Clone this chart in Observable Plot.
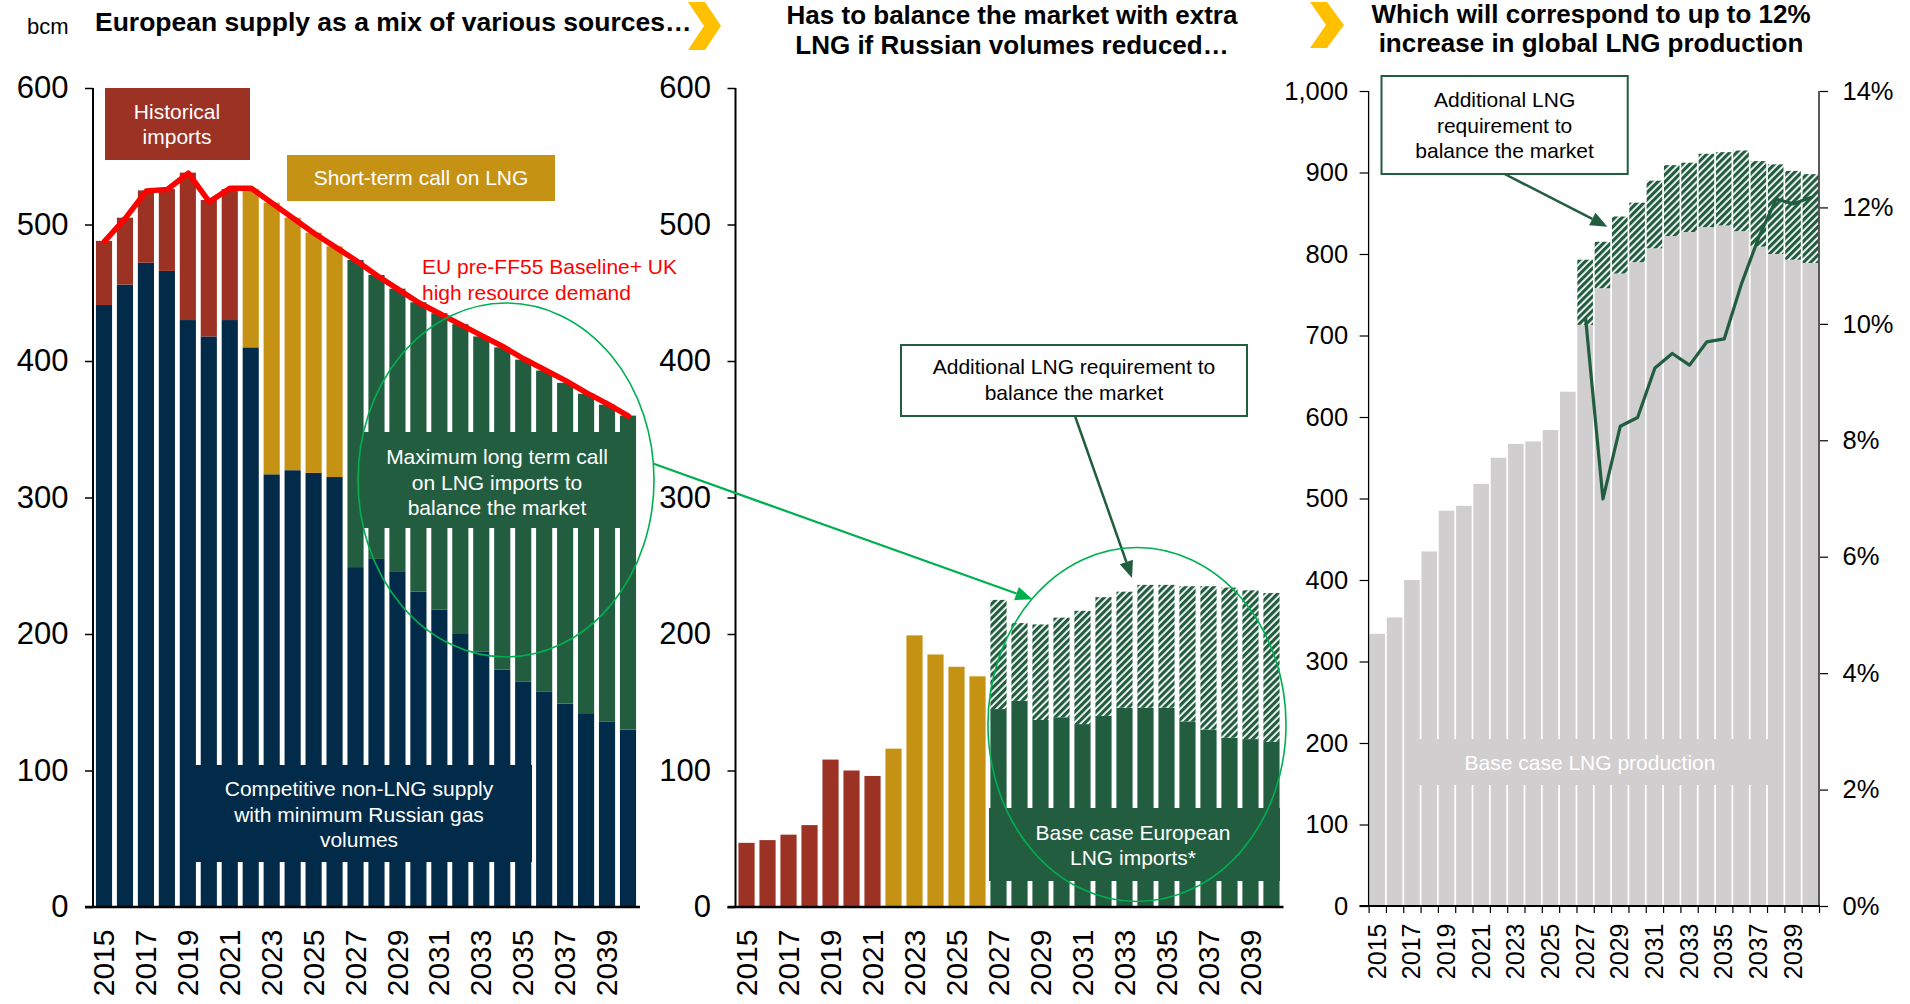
<!DOCTYPE html>
<html>
<head>
<meta charset="utf-8">
<script src="https://cdn.jsdelivr.net/npm/d3@7"></script>
<script src="https://cdn.jsdelivr.net/npm/@observablehq/plot@0.6"></script>
<style>
  html, body { margin: 0; padding: 0; background: #fff; }
  body { font-family: "Liberation Sans", Arial, Helvetica, sans-serif; }
  #root { position: relative; width: 1910px; height: 1004px; overflow: hidden; background: #fff; }
  .panel { position: absolute; top: 0; }
  .title { position: absolute; font-weight: bold; font-size: 26px; line-height: 30px; color: #000; white-space: nowrap; }
  .center { transform: translateX(-50%); text-align: center; }
</style>
</head>
<body>
<div id="root">
  <div class="title" style="left:27px;top:16px;font-size:22px;font-weight:normal;line-height:22px;">bcm</div>
  <div class="title" style="left:95px;top:9px;line-height:26px;font-size:26.5px;">European supply as a mix of various sources…</div>
  <div class="title center" style="left:1012px;top:0px;">Has to balance the market with extra<br>LNG if Russian volumes reduced…</div>
  <div class="title center" style="left:1591px;top:0px;line-height:29px;">Which will correspond to up to 12%<br>increase in global LNG production</div>
  <svg style="position:absolute;left:0;top:0;" width="1910" height="60">
    <polygon points="688,2 705,2 721,26 705,50 688,50 704,26" fill="#ffc000"></polygon>
    <polygon points="1310,2 1327,2 1344,25 1327,48 1310,48 1326,25" fill="#ffc000"></polygon>
  </svg>
</div>
<script>
// ---------------- DATA ----------------
const years = [2015, 2016, 2017, 2018, 2019, 2020, 2021, 2022, 2023, 2024, 2025, 2026, 2027,
               2028, 2029, 2030, 2031, 2032, 2033, 2034, 2035, 2036, 2037, 2038, 2039, 2040];
const labelYears = [2015, 2017, 2019, 2021, 2023, 2025, 2027, 2029, 2031, 2033, 2035, 2037, 2039];
const historicalYears = [2015, 2016, 2017, 2018, 2019, 2020, 2021];
const shortTermYears = [2022, 2023, 2024, 2025, 2026];
const longTermYears = [2027, 2028, 2029, 2030, 2031, 2032, 2033, 2034, 2035, 2036, 2037, 2038, 2039, 2040];

// Competitive non-LNG supply with minimum Russian gas volumes (bcm), 2015-2040
const nonLngSupply = [441, 456, 472, 466, 430, 418, 430, 410, 317, 320, 318, 315, 249,
                      255, 246, 231, 218, 200, 187, 174, 165, 158, 149, 142, 136, 130];
// European LNG imports (bcm)
const historicalImports = [47, 49, 53, 60, 108, 100, 96];          // 2015-2021
const shortTermLng = [116, 199, 185, 176, 169];                     // 2022-2026
const baseCaseImports = [145, 151, 137, 139, 134, 140, 146, 146, 146, 136, 130, 124, 123, 121]; // 2027-2040
const additionalLng = [80, 57, 70, 73, 83, 87, 85, 90, 90, 99, 105, 110, 109, 109];            // 2027-2040
// EU pre-FF55 Baseline + UK high resource demand (bcm)
const demandLine = [488, 505, 525, 526, 538, 517, 527, 527, 516, 505, 494, 484, 474,
                    463, 453, 443, 435, 427, 419, 411, 402, 394, 386, 377, 369, 360];
// Global LNG production, base case (bcm)
const baseCaseProduction = [334, 354, 400, 435, 485, 491, 518, 550, 567, 570, 584, 631, 713,
                            758, 776, 790, 807, 822, 827, 833, 835, 828, 809, 800, 793, 789];
// Additional LNG as share of global LNG production (%), 2027-2040
const additionalShare = [10.1, 7.0, 8.25, 8.4, 9.25, 9.5, 9.3, 9.7, 9.75, 10.7, 11.5, 12.15, 12.07, 12.18];

const yTicksLeft = [0, 100, 200, 300, 400, 500, 600];
const yTicksRight = [0, 100, 200, 300, 400, 500, 600, 700, 800, 900, 1000];
const pctTicks = [0, 2, 4, 6, 8, 10, 12, 14];

// ---------------- STYLE ----------------
const FONT = '"Liberation Sans", Arial, Helvetica, sans-serif';
const NAVY = "#022b49", RED = "#9c3224", GOLD = "#c69214", GREEN = "#225d40",
      GREY = "#d0cecf", LINE_RED = "#ff0000", BRIGHT = "#00b050";

// ---------------- TABLES ----------------
const leftRows = [];
years.forEach((yr, i) => {
  leftRows.push({year: yr, value: nonLngSupply[i], fill: NAVY});
  let h = historicalYears.indexOf(yr), s = shortTermYears.indexOf(yr), l = longTermYears.indexOf(yr);
  if (h >= 0) leftRows.push({year: yr, value: historicalImports[h], fill: RED});
  else if (s >= 0) leftRows.push({year: yr, value: shortTermLng[s], fill: GOLD});
  else leftRows.push({year: yr, value: baseCaseImports[l] + additionalLng[l], fill: GREEN});
});
const demandRows = years.map((yr, i) => ({year: yr, demand: demandLine[i]}));

const midRows = [];
historicalYears.forEach((yr, i) => midRows.push({year: yr, value: historicalImports[i], fill: RED}));
shortTermYears.forEach((yr, i) => midRows.push({year: yr, value: shortTermLng[i], fill: GOLD}));
longTermYears.forEach((yr, i) => {
  midRows.push({year: yr, value: baseCaseImports[i], fill: GREEN});
  midRows.push({year: yr, value: additionalLng[i], fill: "url(#hatchM)"});
});

const rightRows = [];
years.forEach((yr, i) => rightRows.push({year: yr, value: baseCaseProduction[i], fill: GREY}));
longTermYears.forEach((yr, i) => rightRows.push({year: yr, value: additionalLng[i], fill: "url(#hatchR)"}));
const shareRows = longTermYears.map((yr, i) => ({year: yr, share: additionalShare[i]}));

// ---------------- HELPERS ----------------
function hatchDefs(id) {
  return () => {
    const defs = d3.create("svg:defs");
    const p = defs.append("pattern").attr("id", id).attr("patternUnits", "userSpaceOnUse")
      .attr("width", 5).attr("height", 5).attr("patternTransform", "rotate(45)");
    p.append("rect").attr("width", 5).attr("height", 5).attr("fill", "#fff");
    p.append("rect").attr("width", 3.2).attr("height", 5).attr("fill", GREEN);
    return defs.node();
  };
}
function axisLines({left = true, right = false, base = true, w = 2, baseW = 2.5, baseExt = 8, top}) {
  return (index, scales, values, dims) => {
    const g = d3.create("svg:g").attr("stroke", "#000").attr("fill", "none");
    const y = scales.y;
    const x0 = dims.marginLeft, x1 = dims.width - dims.marginRight;
    const y0 = y(0), yt = y(top);
    if (left) g.append("line").attr("x1", x0).attr("x2", x0).attr("y1", yt).attr("y2", y0).attr("stroke-width", w);
    if (right) g.append("line").attr("x1", x1).attr("x2", x1).attr("y1", yt).attr("y2", y0).attr("stroke-width", w);
    if (base) g.append("line").attr("x1", x0 - baseExt).attr("x2", x1 + 1).attr("y1", y0).attr("y2", y0).attr("stroke-width", baseW);
    return g.node();
  };
}
function annot(offsetX, draw) {
  return (index, scales, values, dims) => {
    const g = d3.create("svg:g").attr("transform", `translate(${-offsetX},0)`).attr("font-family", FONT);
    draw(g);
    return g.node();
  };
}
function box(g, x1, y1, x2, y2, fill, stroke) {
  const r = g.append("rect").attr("x", x1).attr("y", y1).attr("width", x2 - x1).attr("height", y2 - y1).attr("fill", fill);
  if (stroke) r.attr("stroke", stroke).attr("stroke-width", 2);
}
function lines(g, x, ys, texts, fill, size = 21, anchor = "middle") {
  texts.forEach((t, i) => g.append("text").attr("x", x).attr("y", ys[i]).attr("dy", "0.35em")
    .attr("text-anchor", anchor).attr("font-size", size).attr("fill", fill).text(t));
}
function arrow(g, x1, y1, x2, y2, color, w, hl = 16, hw = 13) {
  const dx = x2 - x1, dy = y2 - y1, L = Math.hypot(dx, dy), ux = dx / L, uy = dy / L;
  const bx = x2 - ux * hl, by = y2 - uy * hl;
  g.append("line").attr("x1", x1).attr("y1", y1).attr("x2", bx).attr("y2", by).attr("stroke", color).attr("stroke-width", w);
  g.append("polygon").attr("points", `${x2},${y2} ${bx - uy * hw / 2},${by + ux * hw / 2} ${bx + uy * hw / 2},${by - ux * hw / 2}`).attr("fill", color);
}
function ellipse(g, cx, cy, rx, ry) {
  g.append("ellipse").attr("cx", cx).attr("cy", cy).attr("rx", rx).attr("ry", ry)
    .attr("fill", "none").attr("stroke", BRIGHT).attr("stroke-width", 1.6);
}
const baseStyle = {background: "transparent", overflow: "visible", fontFamily: FONT, color: "#000"};
const root = document.getElementById("root");
function place(node, left) {
  node.classList.add("panel");
  node.style.left = left + "px";
  node.style.position = "absolute";
  node.style.top = "0px";
  node.style.maxWidth = "none";
  root.appendChild(node);
}

// ---------------- LEFT PANEL ----------------
const L0 = 0;
const leftPlot = Plot.plot({
  width: 660, height: 1004, marginLeft: 93, marginRight: 21, marginTop: 88, marginBottom: 97,
  style: baseStyle,
  x: {type: "band", domain: years, paddingInner: 0.23, paddingOuter: 0.14, round: false},
  y: {domain: [0, 600]},
  color: {type: "identity"},
  marks: [
    Plot.barY(leftRows, {x: "year", y: "value", fill: "fill"}),
    Plot.lineY(demandRows, {x: "year", y: "demand", stroke: LINE_RED, strokeWidth: 5.5}),
    axisLines({top: 600}),
    Plot.axisY({ticks: yTicksLeft, tickSize: 8, tickPadding: 17, fontSize: 31, label: null, strokeWidth: 1.5}),
    Plot.axisX({ticks: labelYears, tickSize: 0, tickPadding: 22, tickRotate: -90, fontSize: 30, tickFormat: d => String(d), label: null}),
    annot(L0, g => {
      box(g, 105, 88, 250, 160, RED);
      lines(g, 177, [112, 137], ["Historical", "imports"], "#fff");
      box(g, 287, 155, 555, 201, GOLD);
      lines(g, 421, [178], ["Short-term call on LNG"], "#fff");
      lines(g, 422, [267, 293], ["EU pre-FF55 Baseline+ UK", "high resource demand"], LINE_RED, 21, "start");
      box(g, 362, 432, 636, 528, GREEN);
      lines(g, 497, [457, 483, 508], ["Maximum long term call", "on LNG imports to", "balance the market"], "#fff");
      box(g, 182, 765, 532, 862, NAVY);
      lines(g, 359, [789, 815, 840], ["Competitive non-LNG supply", "with minimum Russian gas", "volumes"], "#fff");
      ellipse(g, 506, 480, 148, 177);
    })
  ]
});
place(leftPlot, L0);

// ---------------- MIDDLE PANEL ----------------
const M0 = 660;
const midPlot = Plot.plot({
  width: 640, height: 1004, marginLeft: 75.5, marginRight: 17.5, marginTop: 88, marginBottom: 97,
  style: baseStyle,
  x: {type: "band", domain: years, paddingInner: 0.23, paddingOuter: 0.14, round: false},
  y: {domain: [0, 600]},
  color: {type: "identity"},
  marks: [
    hatchDefs("hatchM"),
    Plot.barY(midRows, {x: "year", y: "value", fill: "fill"}),
    axisLines({top: 600}),
    Plot.axisY({ticks: yTicksLeft, tickSize: 8, tickPadding: 17, fontSize: 31, label: null, strokeWidth: 1.5}),
    Plot.axisX({ticks: labelYears, tickSize: 0, tickPadding: 22, tickRotate: -90, fontSize: 30, tickFormat: d => String(d), label: null}),
    annot(M0, g => {
      arrow(g, 653, 463.5, 1032.5, 599.3, BRIGHT, 2.2, 17, 14);
      box(g, 901, 345, 1247, 416, "#fff", GREEN);
      lines(g, 1074, [367, 393], ["Additional LNG requirement to", "balance the market"], "#000");
      arrow(g, 1075, 416, 1132, 578, GREEN, 2.5, 17, 14);
      box(g, 989, 808, 1280, 881, GREEN);
      lines(g, 1133, [833, 858], ["Base case European", "LNG imports*"], "#fff");
      ellipse(g, 1137, 724.5, 149, 177);
    })
  ]
});
place(midPlot, M0);

// ---------------- RIGHT PANEL ----------------
const R0 = 1300;
const RW = 610, RML = 68.6, RMR = 91;
const rStep = (RW - RML - RMR) / (years.length - 0.1 + 2 * 0.05);
const rightPlot = Plot.plot({
  width: RW, height: 1004, marginLeft: RML, marginRight: RMR, marginTop: 91, marginBottom: 98,
  style: baseStyle,
  x: {type: "band", domain: years, paddingInner: 0.1, paddingOuter: 0.05, round: false},
  y: {domain: [0, 1000]},
  color: {type: "identity"},
  marks: [
    hatchDefs("hatchR"),
    Plot.barY(rightRows, {x: "year", y: "value", fill: "fill"}),
    axisLines({top: 1000, w: 1.3, baseW: 1.8, baseExt: 9}),
    Plot.axisY({ticks: yTicksRight, tickFormat: d3.format(","), tickSize: 9, tickPadding: 12, fontSize: 25.5, label: null, strokeWidth: 1.2}),
    Plot.axisX({ticks: years, tickSize: 7, tickFormat: () => "", dx: -rStep / 2, label: null, strokeWidth: 1.2}),
    Plot.axisX({ticks: [2040], tickSize: 7, tickFormat: () => "", dx: rStep / 2, label: null, strokeWidth: 1.2}),
    Plot.axisX({ticks: labelYears, tickSize: 0, tickPadding: 17, tickRotate: -90, fontSize: 25, tickFormat: d => String(d), label: null}),
    annot(R0, g => {
      box(g, 1405, 739, 1768, 785, GREY);
      lines(g, 1590, [763], ["Base case LNG production"], "#fff");
      box(g, 1381.5, 76, 1627.7, 174, "#fff", GREEN);
      lines(g, 1504.6, [100, 125.5, 151], ["Additional LNG", "requirement to", "balance the market"], "#000");
      arrow(g, 1504.6, 174, 1607.4, 226.7, GREEN, 2.5, 17, 14);
    })
  ]
});
place(rightPlot, R0);

const sharePlot = Plot.plot({
  width: RW, height: 1004, marginLeft: RML, marginRight: RMR, marginTop: 91, marginBottom: 98,
  style: baseStyle,
  x: {type: "band", domain: years, paddingInner: 0.1, paddingOuter: 0.05, round: false, axis: null},
  y: {domain: [0, 14], axis: null},
  marks: [
    Plot.lineY(shareRows, {x: "year", y: "share", stroke: GREEN, strokeWidth: 3.2}),
    axisLines({left: false, right: true, base: false, top: 14, w: 1.3}),
    Plot.axisY({anchor: "right", ticks: pctTicks, tickFormat: d => d + "%", tickSize: 8, tickPadding: 15, fontSize: 25.5, label: null, strokeWidth: 1.2})
  ]
});
place(sharePlot, R0);
</script>
</body>
</html>
